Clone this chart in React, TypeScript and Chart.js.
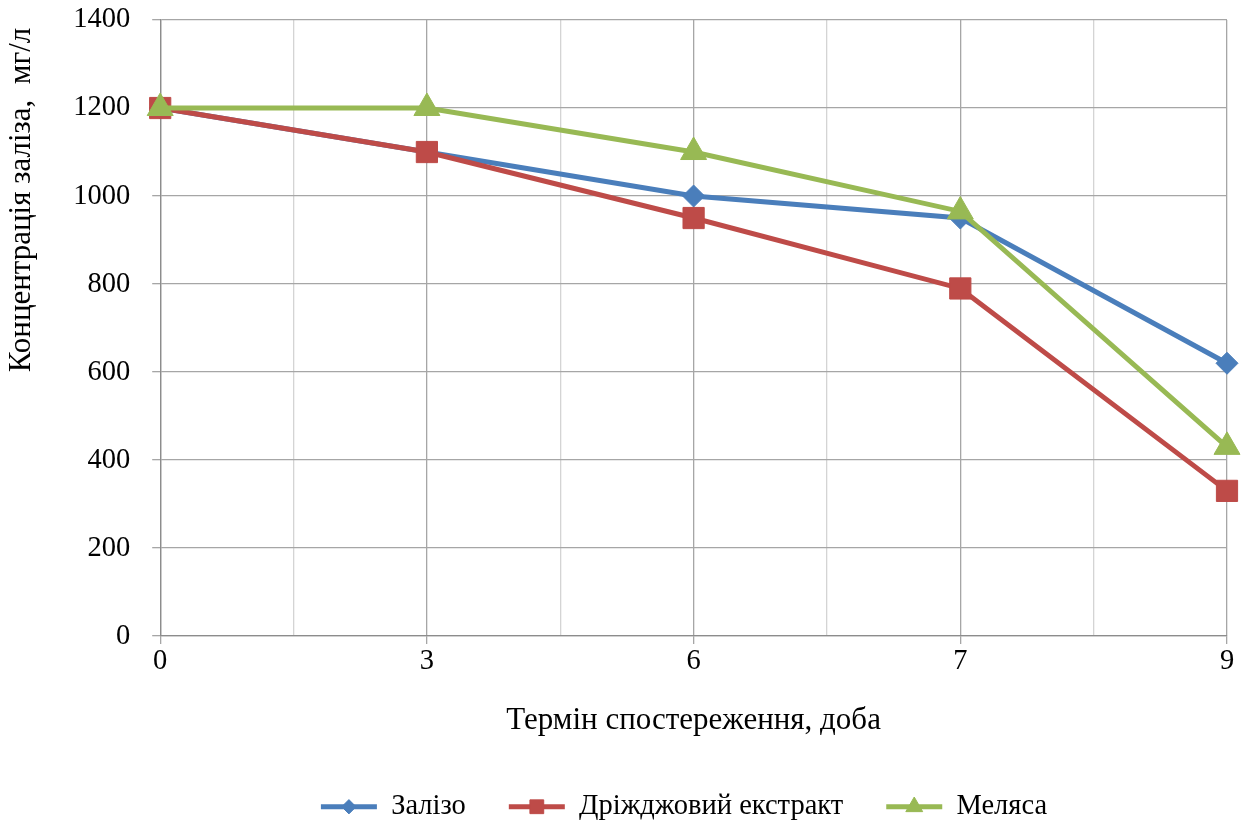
import React, { useEffect, useRef } from "react";
import { Chart, registerables } from "chart.js";
import { drawPoint } from "chart.js/helpers";

Chart.register(...registerables);

const categories = ["0", "3", "6", "7", "9"];
const zalizo = [1200, 1100, 1000, 950, 620];
const drizhdzhi = [1200, 1100, 950, 790, 330];
const melyasa = [1200, 1200, 1100, 965, 430];
const yTicks = [0, 200, 400, 600, 800, 1000, 1200, 1400];

const seriesNames = ["Залізо", "Дріжджовий екстракт", "Меляса"];
const colors = ["#4A7EBB", "#BE4B48", "#98B954"];
const styles = ["rectRot", "rect", "triangle"];
const radii = [11, 15, 15];

const FONT = "'Liberation Serif', 'Times New Roman', serif";

const toPts = (arr: number[]) => arr.map((y, i) => ({ x: i, y }));

const legendShift = {
  id: "legendShift",
  afterLayout(chart: any) {
    const lg = chart.legend;
    if (!lg) return;
    lg.left += 69;
    lg.right += 69;
  },
};

const legendMarkers = {
  id: "legendMarkers",
  afterDraw(chart: any) {
    const legend = chart.legend;
    if (!legend || !legend.legendHitBoxes) return;
    const ctx = chart.ctx;
    const bw = legend.options.labels.boxWidth;
    legend.legendHitBoxes.forEach((hb: any, i: number) => {
      const item = legend.legendItems[i];
      const ds = chart.data.datasets[item ? item.datasetIndex : i];
      ctx.save();
      ctx.fillStyle = ds.backgroundColor;
      ctx.strokeStyle = ds.backgroundColor;
      ctx.lineWidth = 1;
      drawPoint(
        ctx,
        { pointStyle: ds.pointStyle, radius: ds.pointRadius * 0.65, rotation: 0, borderWidth: 1 },
        hb.left + bw / 2,
        hb.top + hb.height / 2
      );
      ctx.restore();
    });
  },
};

export default function App() {
  const ref = useRef<HTMLCanvasElement | null>(null);
  useEffect(() => {
    if (!ref.current) return;
    const data = [zalizo, drizhdzhi, melyasa];
    const chart = new Chart(ref.current, {
      type: "line",
      data: {
        datasets: data.map((d, i) => ({
          label: seriesNames[i],
          data: toPts(d),
          borderColor: colors[i],
          backgroundColor: colors[i],
          borderWidth: 5,
          pointStyle: styles[i] as any,
          pointRadius: radii[i],
          pointBackgroundColor: colors[i],
          pointBorderColor: colors[i],
          pointBorderWidth: 1,
          tension: 0,
          order: data.length - 1 - i,
          clip: false as any,
        })),
      },
      options: {
        animation: false,
        responsive: true,
        maintainAspectRatio: false,
        layout: { padding: { top: 20, right: 18, left: 3, bottom: -6 } },
        plugins: {
          tooltip: { enabled: false },
          legend: {
            position: "bottom",
            labels: {
              boxWidth: 56,
              boxHeight: 5,
              padding: 43,
              color: "#000",
              font: { family: FONT, size: 28.5 },
              sort: (a: any, b: any) => a.datasetIndex - b.datasetIndex,
              generateLabels(chart: any) {
                const items = Chart.defaults.plugins.legend.labels.generateLabels(chart);
                return items.map((it: any) => ({ ...it, lineWidth: 0 }));
              },
            },
          },
        },
        scales: {
          x: {
            type: "linear",
            min: 0,
            max: 4,
            ticks: {
              stepSize: 0.5,
              autoSkip: false,
              maxRotation: 0,
              color: "#000",
              font: { family: FONT, size: 28.5 },
              padding: 0,
              callback: (v: any) => (Number.isInteger(v) ? categories[v] : ""),
            },
            grid: {
              color: (c: any) => (Number.isInteger(c.tick?.value) ? "#A6A6A6" : "#D4D4D4"),
              tickColor: (c: any) => (Number.isInteger(c.tick?.value) ? "#A6A6A6" : "rgba(0,0,0,0)"),
              tickLength: 8,
              lineWidth: 1.3,
            },
            border: { color: "#8C8C8C", width: 1.3 },
            title: {
              display: true,
              text: "Термін спостереження, доба",
              color: "#000",
              font: { family: FONT, size: 31 },
              padding: { top: 24, bottom: 10 },
            },
          },
          y: {
            min: 0,
            max: 1400,
            afterBuildTicks: (axis: any) => {
              axis.ticks = yTicks.map((v) => ({ value: v }));
            },
            afterFit: (scale: any) => {
              scale.paddingTop = 0;
              scale.paddingBottom = 0;
            },
            ticks: {
              color: "#000",
              font: { family: FONT, size: 28.5 },
              padding: 22,
              callback: (v: any) => String(v),
            },
            grid: {
              color: "#A6A6A6",
              tickLength: 8,
              lineWidth: 1.3,
            },
            border: { color: "#8C8C8C", width: 1.3 },
            title: {
              display: true,
              text: "Концентрація заліза,  мг/л ",
              align: "end",
              color: "#000",
              font: { family: FONT, size: 31 },
              padding: { top: 0, bottom: 11 },
            },
          },
        },
      },
      plugins: [legendShift, legendMarkers],
    });
    return () => chart.destroy();
  }, []);
  return (
    <div style={{ position: "absolute", left: 0, top: 0, width: 1245, height: 825, background: "#fff" }}>
      <canvas ref={ref} />
    </div>
  );
}
